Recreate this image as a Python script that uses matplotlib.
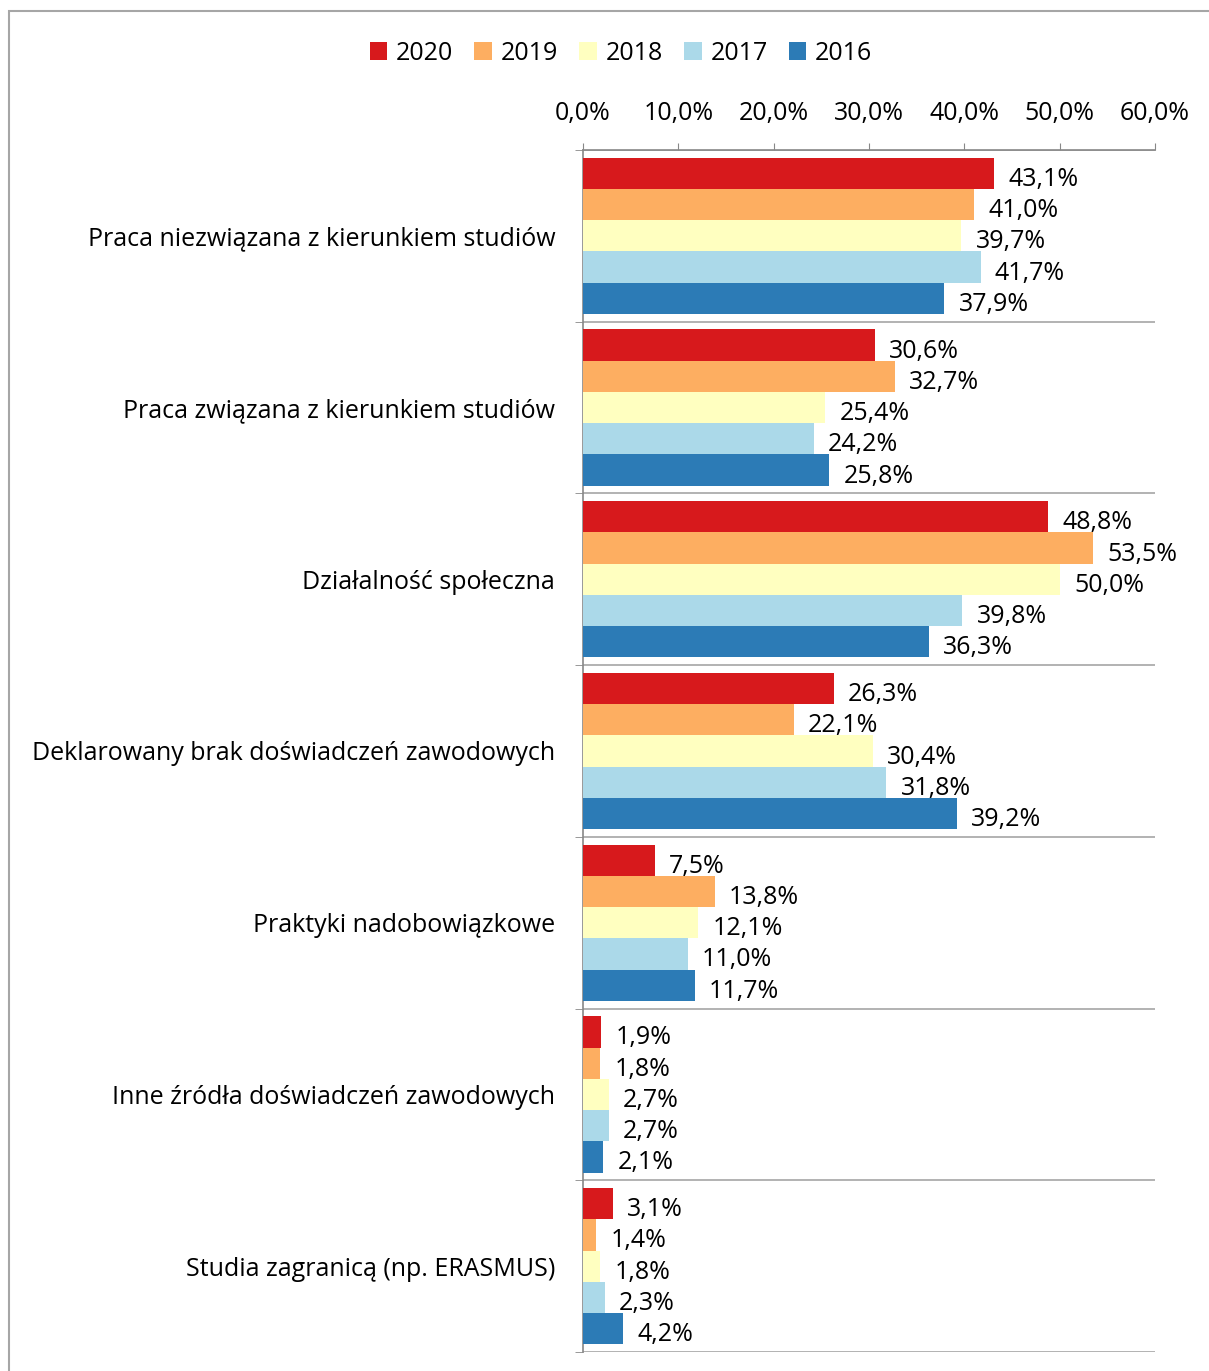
import matplotlib
matplotlib.use("Agg")
import matplotlib.pyplot as plt
import numpy as np
from matplotlib.patches import Rectangle

plt.rcParams["font.family"] = ["Open Sans", "DejaVu Sans"]

categories = [
    "Praca niezwiązana z kierunkiem studiów",
    "Praca związana z kierunkiem studiów",
    "Działalność społeczna",
    "Deklarowany brak doświadczeń zawodowych",
    "Praktyki nadobowiązkowe",
    "Inne źródła doświadczeń zawodowych",
    "Studia zagranicą (np. ERASMUS)",
]
years = ["2020", "2019", "2018", "2017", "2016"]
colors = ["#D7191C", "#FDAE61", "#FFFFC0", "#ABD9E9", "#2C7BB6"]

v2020 = [43.1, 30.6, 48.8, 26.3, 7.5, 1.9, 3.1]
v2019 = [41.0, 32.7, 53.5, 22.1, 13.8, 1.8, 1.4]
v2018 = [39.7, 25.4, 50.0, 30.4, 12.1, 2.7, 1.8]
v2017 = [41.7, 24.2, 39.8, 31.8, 11.0, 2.7, 2.3]
v2016 = [37.9, 25.8, 36.3, 39.2, 11.7, 2.1, 4.2]
series = [v2020, v2019, v2018, v2017, v2016]

xticks = [0, 10, 20, 30, 40, 50, 60]
FS = 18

fig = plt.figure(figsize=(12.09, 13.71), dpi=100)
ax = fig.add_axes([583 / 1209, 1 - 1352 / 1371, (1155 - 583) / 1209, (1352 - 150) / 1371])

# outer frame
fig.patches.append(Rectangle((9 / 1209, -0.1), 1.2, 1.1 - 11 / 1371,
                             transform=fig.transFigure, fill=False,
                             edgecolor="#A6A6A6", linewidth=1.5))

y = np.arange(len(categories))
h = 0.182
for j, (name, vals, c) in enumerate(zip(years, series, colors)):
    pos = y + (j - 2) * h
    ax.barh(pos, vals, height=h, color=c, label=name, zorder=3)
    for p, v in zip(pos, vals):
        ax.text(v + 1.5, p + 0.035, f"{v:.1f}%".replace(".", ","),
                va="center", ha="left", fontsize=FS, color="#000000")

ax.set_xlim(0, 60)
ax.set_ylim(len(categories) - 0.5, -0.5)
ax.xaxis.tick_top()
ax.set_xticks(xticks)
ax.set_xticklabels([f"{t:.1f}%".replace(".", ",") for t in xticks], fontsize=FS)
ax.tick_params(axis="x", length=5, color="#888888", pad=12)

ax.set_yticks(y)
ax.set_yticklabels(categories, fontsize=FS)
ax.set_yticks(np.arange(-0.5, len(categories)), minor=True)
ax.tick_params(axis="y", which="major", length=0, pad=20)
ax.tick_params(axis="y", which="minor", length=6, color="#888888")
ax.grid(axis="y", which="minor", color="#A6A6A6", linewidth=1.2, zorder=0)

for s in ["right", "bottom"]:
    ax.spines[s].set_visible(False)
for s in ["top", "left"]:
    ax.spines[s].set_color("#888888")
    ax.spines[s].set_linewidth(1.2)

fig.legend(loc="center", bbox_to_anchor=(621 / 1209, 1 - 53 / 1371), ncol=5,
           frameon=False, fontsize=FS, handlelength=0.7, handleheight=0.7,
           handletextpad=0.35, columnspacing=0.85)

fig.savefig("out.png", dpi=100)
